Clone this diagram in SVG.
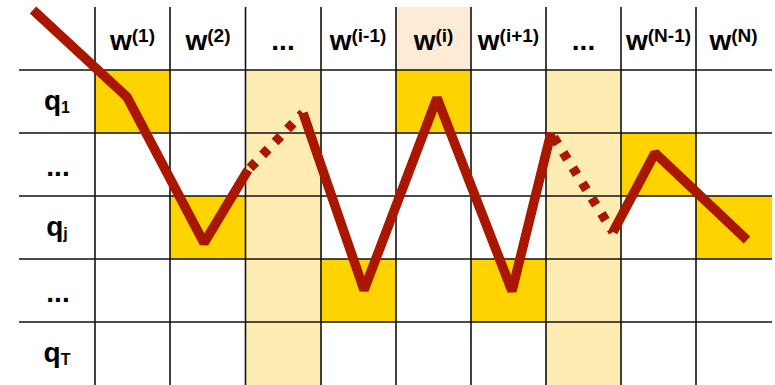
<svg xmlns="http://www.w3.org/2000/svg" width="775" height="385" viewBox="0 0 775 385">
<style>
.gold{fill:#FFD300}
.pale{fill:#FFECB3}
.peach{fill:#FDEBD5}
.grid{stroke:#111;stroke-width:1.6;fill:none}
.lbl{font-family:"Liberation Sans",Arial,sans-serif;font-weight:bold;font-size:28px;fill:#000;text-anchor:middle}
.sup{font-size:19px}
.sub{font-size:16px}
.path{stroke:#AA1700;stroke-width:9.5;fill:none;stroke-linejoin:bevel;stroke-linecap:butt}
.dot{stroke:#AA1700;stroke-width:9.5;fill:none;stroke-dasharray:8 10}
</style>
<g id="background">
<rect class="peach" x="396" y="7" width="75" height="63"/>
<rect class="pale" x="245.5" y="70" width="75.5" height="315"/>
<rect class="pale" x="546" y="70" width="75" height="315"/>
<rect class="gold" x="95" y="70" width="75" height="63"/>
<rect class="gold" x="170" y="196" width="75.5" height="63"/>
<rect class="gold" x="321" y="259" width="75" height="63"/>
<rect class="gold" x="396" y="70" width="75" height="63"/>
<rect class="gold" x="471" y="259" width="75" height="63"/>
<rect class="gold" x="621" y="133" width="75" height="63"/>
<rect class="gold" x="696" y="196" width="76" height="63"/>
</g>
<g id="grid" class="grid">
<line x1="19" y1="70" x2="772" y2="70"/>
<line x1="19" y1="133" x2="772" y2="133"/>
<line x1="19" y1="196" x2="772" y2="196"/>
<line x1="19" y1="259" x2="772" y2="259"/>
<line x1="19" y1="322" x2="772" y2="322"/>
<line x1="95" y1="7" x2="95" y2="385"/>
<line x1="170" y1="7" x2="170" y2="385"/>
<line x1="245.5" y1="7" x2="245.5" y2="385"/>
<line x1="321" y1="7" x2="321" y2="385"/>
<line x1="396" y1="7" x2="396" y2="385"/>
<line x1="471" y1="7" x2="471" y2="385"/>
<line x1="546" y1="7" x2="546" y2="385"/>
<line x1="621" y1="7" x2="621" y2="385"/>
<line x1="696" y1="7" x2="696" y2="385"/>
</g>
<g id="headers">
<text class="lbl" x="132.5" y="50">w<tspan class="sup" dy="-8">(1)</tspan></text>
<text class="lbl" x="208" y="50">w<tspan class="sup" dy="-8">(2)</tspan></text>
<text class="lbl" x="283" y="50">...</text>
<text class="lbl" x="358" y="50">w<tspan class="sup" dy="-8">(i-1)</tspan></text>
<text class="lbl" x="433.5" y="50">w<tspan class="sup" dy="-8">(i)</tspan></text>
<text class="lbl" x="508.5" y="50">w<tspan class="sup" dy="-8">(i+1)</tspan></text>
<text class="lbl" x="583.5" y="50">...</text>
<text class="lbl" x="658.5" y="50">w<tspan class="sup" dy="-8">(N-1)</tspan></text>
<text class="lbl" x="733.5" y="50">w<tspan class="sup" dy="-8">(N)</tspan></text>
</g>
<g id="rows">
<text class="lbl" x="57" y="110">q<tspan class="sub" dy="3">1</tspan></text>
<text class="lbl" x="58" y="176">...</text>
<text class="lbl" x="57" y="236">q<tspan class="sub" dy="3">j</tspan></text>
<text class="lbl" x="58" y="302">...</text>
<text class="lbl" x="57" y="362">q<tspan class="sub" dy="3">T</tspan></text>
</g>
<g id="connectors">
<polyline class="path" points="33,10 127,97 204,243 248,170"/>
<line class="dot" x1="248" y1="170" x2="303" y2="113" stroke-dashoffset="-3"/>
<polyline class="path" points="303,113 364,290 437,98 512,291 551,133"/>
<line class="dot" x1="551" y1="133" x2="613" y2="232" stroke-dashoffset="-5"/>
<polyline class="path" points="613,232 655,153 747,240"/>
</g>
</svg>
